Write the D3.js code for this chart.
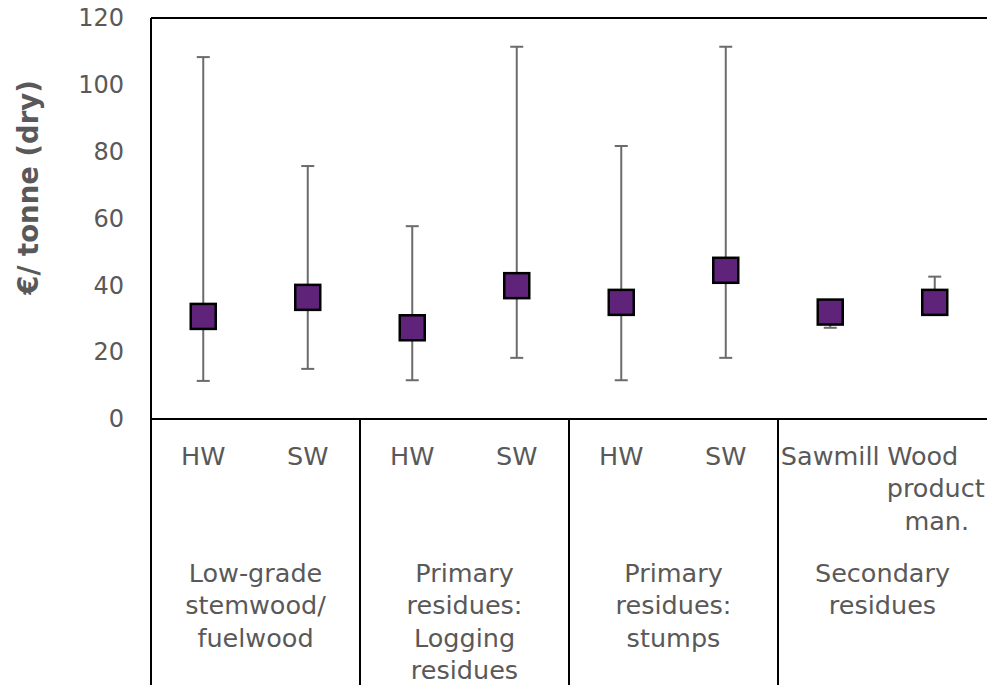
<!DOCTYPE html>
<html>
<head>
<meta charset="utf-8">
<script src="https://cdn.jsdelivr.net/npm/d3@7"></script>
<style>
  html, body { margin: 0; padding: 0; background: #fff; }
  svg { display: block; }
  text { font-family: "DejaVu Sans", Verdana, sans-serif; fill: #595959; }
</style>
</head>
<body>
<svg id="chart" width="987" height="685"></svg>
<script>
// Price ranges of woody biomass feedstocks (€ per dry tonne)
const subCategories = ["HW", "SW", "HW", "SW", "HW", "SW", "Sawmill", "Wood product man."];
const subLabelLines = [["HW"], ["SW"], ["HW"], ["SW"], ["HW"], ["SW"], ["Sawmill"], ["Wood", "product", "man."]];
const groupLabels = [
  ["Low-grade", "stemwood/", "fuelwood"],
  ["Primary", "residues:", "Logging", "residues"],
  ["Primary", "residues:", "stumps"],
  ["Secondary", "residues"]
];
const typicalPrice = [30.7, 36.4, 27.3, 39.9, 34.9, 44.5, 32.0, 34.9];
const minPrice     = [11.4, 15.0, 11.6, 18.3, 11.6, 18.3, 27.3, 33.5];
const maxPrice     = [108.3, 75.7, 57.7, 111.4, 81.7, 111.4, 32.5, 42.6];
const yTicks = [0, 20, 40, 60, 80, 100, 120];
const yTitle = "€/ tonne (dry)";

const svg = d3.select("#chart");
const plotLeft = 151, plotTop = 18, baseY = 419, bandW = 104.5;
const idx = d3.range(subCategories.length);
const labelSize = 25.5;

const x = d3.scaleBand().domain(idx).range([plotLeft, plotLeft + bandW * idx.length]).padding(0);
const y = d3.scaleLinear().domain([0, 120]).range([baseY, plotTop]);

// Y axis labels
const yAxis = d3.axisLeft(y).tickValues(yTicks).tickSize(0).tickPadding(27);
const gy = svg.append("g").attr("transform", `translate(${plotLeft},0)`).call(yAxis);
gy.select(".domain").remove();
gy.selectAll("text")
  .attr("font-size", 24)
  .attr("font-family", "DejaVu Sans, Verdana, sans-serif")
  .attr("fill", "#595959");

svg.append("text")
  .attr("transform", `translate(28,${(plotTop + baseY) / 2 - 31}) rotate(-90)`)
  .attr("text-anchor", "middle")
  .attr("dominant-baseline", "central")
  .attr("font-size", 27.5)
  .attr("font-weight", "bold")
  .text(yTitle);

// Plot frame and category separator lines
const frame = svg.append("g").attr("stroke", "#000").attr("stroke-width", 2).attr("fill", "none");
frame.append("line").attr("x1", plotLeft).attr("x2", 1000).attr("y1", plotTop).attr("y2", plotTop);
frame.append("line").attr("x1", plotLeft).attr("x2", plotLeft).attr("y1", plotTop).attr("y2", 690);
frame.append("line").attr("x1", plotLeft).attr("x2", 1000).attr("y1", baseY).attr("y2", baseY);
groupLabels.forEach((g, i) => {
  if (i === 0) return;
  const gx = x(i * 2);
  frame.append("line").attr("x1", gx).attr("x2", gx).attr("y1", baseY).attr("y2", 690);
});

// Error bars (min – max)
const eb = svg.append("g").attr("stroke", "#6b6b6b").attr("stroke-width", 2);
const cx = i => x(i) + x.bandwidth() / 2;
idx.forEach(i => {
  eb.append("line").attr("x1", cx(i)).attr("x2", cx(i)).attr("y1", y(minPrice[i])).attr("y2", y(maxPrice[i]));
  [minPrice[i], maxPrice[i]].forEach(v => {
    eb.append("line").attr("x1", cx(i) - 6.5).attr("x2", cx(i) + 6.5).attr("y1", y(v)).attr("y2", y(v));
  });
});

// Typical price markers
const m = 25;
svg.append("g").selectAll("rect").data(idx).join("rect")
  .attr("x", i => cx(i) - m / 2)
  .attr("y", i => y(typicalPrice[i]) - m / 2)
  .attr("width", m).attr("height", m)
  .attr("fill", "#5f237a")
  .attr("stroke", "#000").attr("stroke-width", 2.5);

// Sub-category labels
const lineH = 32.3;
const subDx = { "Wood": -12, "product": 1, "man.": 2 };
idx.forEach(i => {
  const t = svg.append("text").attr("text-anchor", "middle").attr("font-size", labelSize);
  subLabelLines[i].forEach((ln, k) => {
    t.append("tspan").attr("x", cx(i) + (subDx[ln] || 0)).attr("y", 456 + k * lineH)
      .attr("dominant-baseline", "central").text(ln);
  });
});

// Group labels
groupLabels.forEach((lines, g) => {
  const gc = x(g * 2) + x.bandwidth();
  const t = svg.append("text").attr("text-anchor", "middle").attr("font-size", labelSize);
  lines.forEach((ln, k) => {
    t.append("tspan").attr("x", gc).attr("y", 573 + k * lineH)
      .attr("dominant-baseline", "central").text(ln);
  });
});
</script>
</body>
</html>
